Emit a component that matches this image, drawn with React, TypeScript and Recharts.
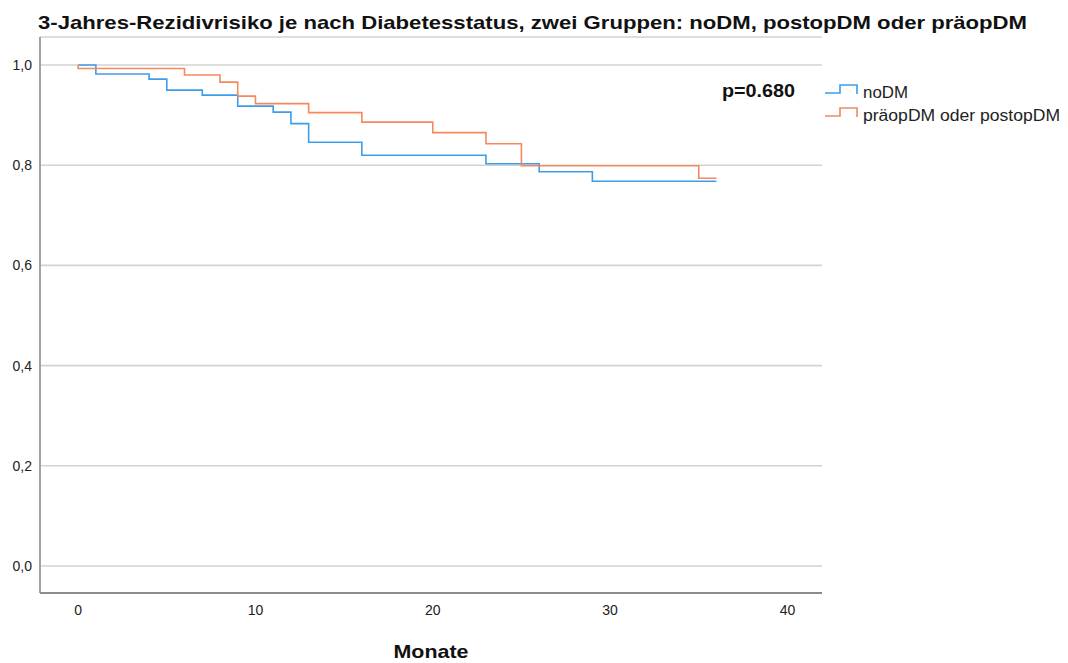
import React from "react";
import { LineChart, Line, XAxis, YAxis, CartesianGrid } from "recharts";

// Kaplan-Meier estimates (months, survival proportion)
const noDmMonths = [0, 1, 4, 5, 7, 9, 11, 12, 13, 16, 23, 26, 29, 36];
const noDmSurvival = [1.0, 0.982, 0.972, 0.95, 0.94, 0.918, 0.906, 0.883, 0.846, 0.82, 0.803, 0.787, 0.768, 0.768];

const dmMonths = [0, 0, 6, 8, 9, 10, 13, 16, 20, 23, 25, 35, 36];
const dmSurvival = [1.0, 0.993, 0.98, 0.966, 0.938, 0.923, 0.905, 0.886, 0.865, 0.843, 0.799, 0.774, 0.774];

const xTicks = [0, 10, 20, 30, 40];
const yTicks = [0, 0.2, 0.4, 0.6, 0.8, 1.0];

const seriesNames = ["noDM", "präopDM oder postopDM"];
const pValueText = "p=0.680";
const title = "3-Jahres-Rezidivrisiko je nach Diabetesstatus, zwei Gruppen: noDM, postopDM oder präopDM";
const xTitle = "Monate";

const BLUE = "#3d9de8";
const ORANGE = "#f5885c";
const FONT = "'Liberation Sans', Arial, sans-serif";

const toPoints = (ts: number[], vs: number[]) => ts.map((t, i) => ({ t, s: vs[i] }));
const noDmData = toPoints(noDmMonths, noDmSurvival);
const dmData = toPoints(dmMonths, dmSurvival);

const W = 1068;
const H = 663;

const XTick = (props: any) => (
  <text x={props.x} y={props.y} dy={14} textAnchor="middle" fontSize={14} fontFamily={FONT} fill="#222">
    {props.payload.value}
  </text>
);

const YTick = (props: any) => (
  <text x={props.x} y={props.y} dy={5} textAnchor="end" fontSize={14} fontFamily={FONT} fill="#222">
    {Number(props.payload.value).toFixed(1).replace(".", ",")}
  </text>
);

// small step glyph used in the legend
const StepGlyph = ({ y, color }: { y: number; color: string }) => (
  <polyline
    points={`825,${y} 840,${y} 840,${y - 8} 857,${y - 8} 857,${y + 1}`}
    fill="none"
    stroke={color}
    strokeWidth={1.6}
  />
);

export default function App() {
  return (
    <div style={{ position: "absolute", left: 0, top: 0, width: W, height: H, background: "#fff" }}>
      <LineChart
        width={W}
        height={H}
        margin={{ top: 37, right: 246, bottom: 40, left: 0 }}
      >
        <CartesianGrid vertical={false} stroke="#d2d2d2" strokeWidth={1.6} />
        <XAxis
          type="number"
          dataKey="t"
          domain={[-2.15, 41.95]}
          ticks={xTicks}
          allowDataOverflow
          height={30}
          tickLine={false}
          axisLine={{ stroke: "#8c8c8c", strokeWidth: 1.8 }}
          tick={<XTick />}
        />
        <YAxis
          type="number"
          domain={[-0.054, 1.056]}
          ticks={yTicks}
          allowDataOverflow
          width={40}
          tickLine={false}
          axisLine={{ stroke: "#9a9a9a", strokeWidth: 1.8 }}
          tick={<YTick />}
        />
        <Line
          data={noDmData}
          dataKey="s"
          type="stepAfter"
          stroke={BLUE}
          strokeWidth={1.6}
          dot={false}
          isAnimationActive={false}
        />
        <Line
          data={dmData}
          dataKey="s"
          type="stepAfter"
          stroke={ORANGE}
          strokeWidth={1.6}
          dot={false}
          isAnimationActive={false}
        />
      </LineChart>
      <svg
        width={W}
        height={H}
        style={{ position: "absolute", left: 0, top: 0, pointerEvents: "none" }}
        fontFamily={FONT}
      >
        <text x={38} y={29} fontSize={19} fontWeight="bold" fill="#111" textLength={989} lengthAdjust="spacingAndGlyphs">
          {title}
        </text>
        <text x={722} y={97} fontSize={18} fontWeight="bold" fill="#111" textLength={73} lengthAdjust="spacingAndGlyphs">
          {pValueText}
        </text>
        <StepGlyph y={93} color={BLUE} />
        <StepGlyph y={116} color={ORANGE} />
        <text x={863} y={98} fontSize={16} fill="#222" textLength={45} lengthAdjust="spacingAndGlyphs">
          {seriesNames[0]}
        </text>
        <text x={863} y={121} fontSize={16} fill="#222" textLength={197} lengthAdjust="spacingAndGlyphs">
          {seriesNames[1]}
        </text>
        <text x={431} y={658} fontSize={19} fontWeight="bold" fill="#111" textAnchor="middle" textLength={75} lengthAdjust="spacingAndGlyphs">
          {xTitle}
        </text>
      </svg>
    </div>
  );
}
